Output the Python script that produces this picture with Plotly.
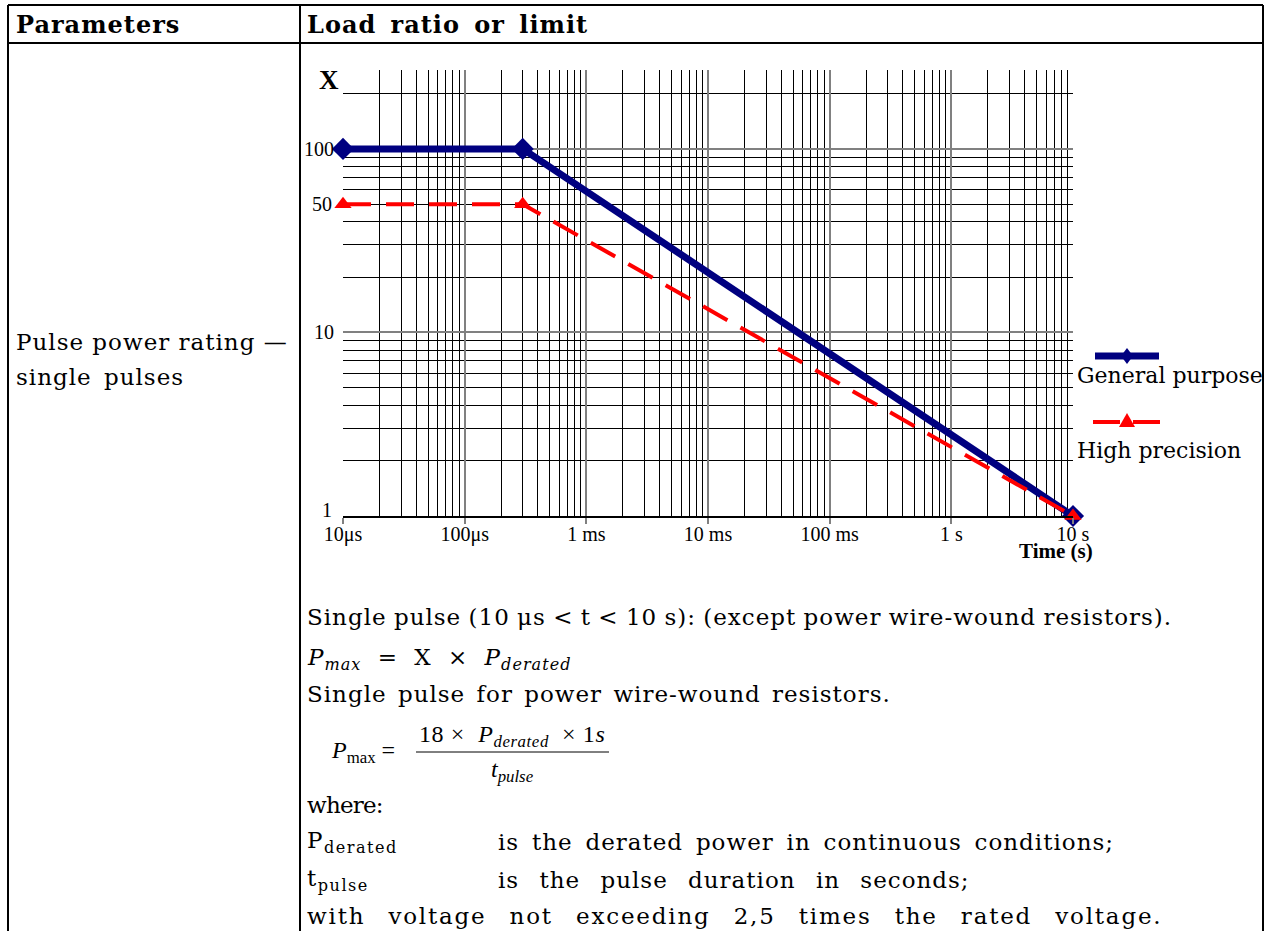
import math
import plotly.graph_objects as go

W, H = 1272, 931

# ---------------- data ----------------
time_s = [1e-5, 3e-4, 10]
x_general = [100, 100, 1]
x_precision = [50, 50, 1]

x_tickvals = [1e-5, 1e-4, 1e-3, 1e-2, 1e-1, 1, 10]
x_ticktext = ["10μs", "100μs", "1 ms", "10 ms", "100 ms", "1 s", "10 s"]
y_tickvals = [1, 10, 100]
y_ticktext = ["", "10", "100"]
y_extra_labels = [1, 50]

BODY = "DejaVu Serif"
TIMES = "Liberation Serif"

def px(x):
    return x / W

def py(y):
    return 1 - y / H

fig = go.Figure()

fig.add_trace(go.Scatter(
    x=time_s, y=x_general, mode="lines+markers", name="General purpose",
    line=dict(color="#000080", width=7),
    marker=dict(symbol="diamond", size=17, color="#000080"),
    cliponaxis=False, showlegend=False))
fig.add_trace(go.Scatter(
    x=time_s, y=x_precision, mode="lines+markers", name="High precision",
    line=dict(color="#FF0000", width=4, dash="28px,15px"),
    marker=dict(symbol="triangle-up", size=15, color="#FF0000"),
    cliponaxis=False, showlegend=False))

x_minor = []
for e in range(-5, 1):
    for m in range(2, 10):
        x_minor.append(m * 10 ** e)
y_minor = []
for e in range(0, 3):
    for m in range(2, 10):
        v = m * 10 ** e
        if v < 270:
            y_minor.append(v)

x0, x1 = 343, 1073
ytop, ybot = 70, 516

fig.update_layout(
    width=W, height=H, margin=dict(l=0, r=0, t=0, b=0, autoexpand=False),
    paper_bgcolor="white", plot_bgcolor="white",
    font=dict(family=TIMES, color="black", size=19),
    xaxis=dict(
        type="log", range=[-5, 1], domain=[px(x0), px(x1)], automargin=False,
        tickvals=x_tickvals, ticktext=x_ticktext,
        showgrid=True, gridcolor="#808080", gridwidth=2,
        ticks="outside", ticklen=6, tickwidth=2, tickcolor="#808080",
        showline=True, linecolor="black", linewidth=2,
        ticklabelstandoff=-7,
        zeroline=False, tickfont=dict(family=TIMES, size=20),
        minor=dict(tickvals=x_minor, showgrid=True, gridcolor="black", gridwidth=1, ticks=""),
    ),
    yaxis=dict(
        type="log", range=[0, 2.43], domain=[py(ybot), py(ytop)], automargin=False,
        tickvals=y_tickvals, ticktext=y_ticktext,
        showgrid=True, gridcolor="#808080", gridwidth=2,
        ticks="", showline=False, zeroline=False,
        ticklabelstandoff=8,
        tickfont=dict(family=TIMES, size=20),
        minor=dict(tickvals=y_minor, showgrid=True, gridcolor="black", gridwidth=1, ticks=""),
    ),
)

ann = []
def A(x, y, text, size=23, family=BODY, xanchor="left", yanchor="middle", ws=None, ls=None):
    st = []
    if ls is not None:
        st.append("letter-spacing:{}px".format(ls))
    if ws is not None:
        st.append("word-spacing:{}px".format(ws))
    if st:
        text = '<span style="{}">{}</span>'.format(";".join(st), text)
    ann.append(dict(x=px(x), y=py(y), xref="paper", yref="paper", text=text,
                    showarrow=False, xanchor=xanchor, yanchor=yanchor, borderpad=0,
                    font=dict(family=family, size=size, color="black")))

# y labels placed as annotations (log axis -> annotation y in log10 units)
for v in y_extra_labels:
    ann.append(dict(x=px(x0), y=math.log10(v), xref="paper", yref="y",
                    text=str(v), showarrow=False, xanchor="right", yanchor="middle",
                    xshift=-9, yshift=6 if v == 1 else 0,
                    font=dict(family=TIMES, size=20, color="black")))

A(329, 80, "<b>X</b>", size=27, family=TIMES, xanchor="center")
A(1056, 551, "<b>Time (s)</b>", size=21, family=TIMES, xanchor="center")

A(1076, 376, "General purpose", size=22)
A(1076, 450, "High precision", size=22)

shapes = []
def L(xa, ya, xb, yb, color="black", width=2):
    shapes.append(dict(type="line", xref="paper", yref="paper", x0=px(xa), y0=py(ya), x1=px(xb), y1=py(yb),
                       line=dict(color=color, width=width)))

L(1095, 356, 1159, 356, color="#000080", width=7)
shapes.append(dict(type="path", xref="paper", yref="paper",
                   path="M {},{} L {},{} L {},{} L {},{} Z".format(
                       px(1127), py(348), px(1133), py(356), px(1127), py(364), px(1121), py(356)),
                   fillcolor="#000080", line=dict(width=0)))
L(1093, 422, 1120, 422, color="#FF0000", width=4)
L(1133, 422, 1160, 422, color="#FF0000", width=4)
shapes.append(dict(type="path", xref="paper", yref="paper",
                   path="M {},{} L {},{} L {},{} Z".format(
                       px(1127), py(413), px(1135), py(427), px(1119), py(427)),
                   fillcolor="#FF0000", line=dict(width=0)))

L(8, 5, 1263, 5)
L(8, 43, 1263, 43)
L(8, 5, 8, 931)
L(1263, 5, 1263, 931)
L(300, 5, 300, 931)

A(15, 24, "<b>Parameters</b>", size=24, ls=1)
A(306, 24, "<b>Load ratio or limit</b>", size=24, ls=1, ws=5)

A(15, 342, "Pulse power rating —", size=23, ls=1)
A(15, 377, "single pulses", size=23, ls=1, ws=4)

A(306, 617, "Single pulse (10 μs < t < 10 s): (except power wire-wound resistors).", size=23, ls=1, ws=-1)
A(306, 659, "<i>P<sub>max</sub></i> = X × <i>P<sub>derated</sub></i>", size=23, ls=1, ws=8)
A(306, 694, "Single pulse for power wire-wound resistors.", size=23, ls=1, ws=3)

A(330, 752, "<i>P</i><sub>max</sub> =", size=24, family=TIMES)
A(512, 736, "18 ×  <i>P</i><sub><i>derated</i></sub>  × 1<i>s</i>", size=24, family=TIMES, xanchor="center", ls=0.6)
A(512, 771, "<i>t</i><sub><i>pulse</i></sub>", size=24, family=TIMES, xanchor="center")
L(416, 752, 609, 752, width=1)

A(306, 805, "where:", size=23, ls=-0.8)
A(306, 842, "P<sub>derated</sub>", size=23, ls=1.5)
A(497, 842, "is the derated power in continuous conditions;", size=23, ls=1, ws=4.5)
A(306, 880, "t<sub>pulse</sub>", size=23, ls=1.5)
A(497, 880, "is the pulse duration in seconds;", size=23, ls=1, ws=12)
A(306, 916, "with voltage not exceeding 2,5 times the rated voltage.", size=23, ls=1.8, ws=14)

fig.update_layout(annotations=ann, shapes=shapes)
fig.write_html("out.html")
